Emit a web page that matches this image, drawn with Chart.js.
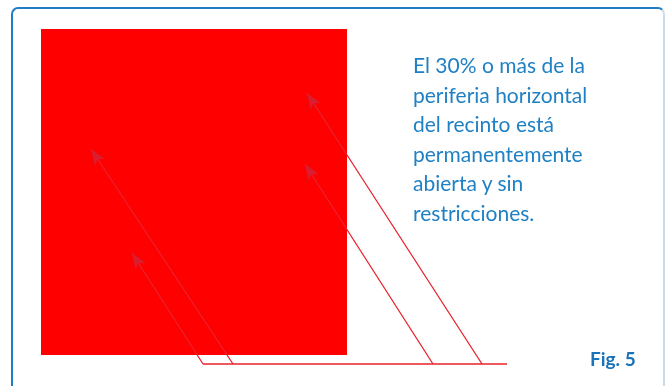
<!DOCTYPE html>
<html>
<head>
<meta charset="utf-8">
<script src="https://cdn.jsdelivr.net/npm/chart.js@4/dist/chart.umd.min.js"></script>
<style>
  html, body { margin: 0; padding: 0; background: #ffffff; }
  #wrap { position: relative; width: 666px; height: 386px; overflow: hidden; }
  #frame {
    position: absolute; left: 11px; top: 7px; width: 650px; height: 400px;
    border: 2px solid #1f7dc3; border-right-color: #c9dced; border-radius: 7px;
  }
  canvas { position: absolute; left: 0; top: 0; }
  .note {
    position: absolute; left: 413px; top: 50px; width: 245px;
    font-family: Lato, "Open Sans", sans-serif; font-size: 21px; line-height: 29.5px;
    color: #1f80c4;
  }
  .fig {
    position: absolute; left: 590px; top: 347px;
    font-family: Lato, "Open Sans", sans-serif; font-weight: 700; font-size: 19px;
    color: #1a73b8;
  }
</style>
</head>
<body>
<div id="wrap">
  <div id="frame"></div>
  <canvas id="chart" width="666" height="386"></canvas>
  <div class="note">El 30% o más de la<br>periferia horizontal<br>del recinto está<br>permanentemente<br>abierta y sin<br>restricciones.</div>
  <div class="fig">Fig. 5</div>
</div>
<script>
// drawing space matches the 666 x 386 picture, y counted from the top
const panelX = [41, 347];
const panelTop = 29;
const panelBottom = 355;

const arrowStartX = [203, 233, 433, 482];
const arrowStartY = [364, 364, 364, 364];
const arrowTipX = [132, 91, 305, 307];
const arrowTipY = [253, 149, 164, 93];

const baseLineX = [203, 507];
const baseLineY = 364;

const LINE_RED = "#e8212d";
const HEAD_RED = "#d81e30";

const datasets = [
  {
    label: "panel-top",
    order: 10,
    data: panelX.map((x) => ({ x, y: panelTop })),
    showLine: true, borderWidth: 0, pointRadius: 0,
    backgroundColor: "#ff0000", fill: "+1",
  },
  {
    label: "panel-bottom",
    order: 10,
    data: panelX.map((x) => ({ x, y: panelBottom })),
    showLine: true, borderWidth: 0, pointRadius: 0,
  },
  {
    label: "base",
    order: 1,
    data: baseLineX.map((x) => ({ x, y: baseLineY })),
    showLine: true, borderColor: LINE_RED, borderWidth: 1.5, pointRadius: 0,
  },
];

arrowStartX.forEach((sx, i) => {
  datasets.push({
    label: "arrow-" + (i + 1),
    order: 1,
    arrow: true,
    data: [{ x: sx, y: arrowStartY[i] }, { x: arrowTipX[i], y: arrowTipY[i] }],
    showLine: true, borderColor: LINE_RED, borderWidth: 1.3, pointRadius: 0,
  });
});

const arrowHeads = {
  id: "arrowHeads",
  afterDatasetsDraw(chart) {
    const { ctx } = chart;
    chart.data.datasets.forEach((ds, i) => {
      if (!ds.arrow) return;
      const pts = chart.getDatasetMeta(i).data;
      const a = pts[0], b = pts[pts.length - 1];
      const ang = Math.atan2(b.y - a.y, b.x - a.x);
      ctx.save();
      ctx.translate(b.x, b.y);
      ctx.rotate(ang);
      ctx.fillStyle = HEAD_RED;
      ctx.beginPath();
      ctx.moveTo(0, 0);
      ctx.lineTo(-16, -6);
      ctx.lineTo(-12, 0);
      ctx.lineTo(-16, 6);
      ctx.closePath();
      ctx.fill();
      ctx.restore();
    });
  },
};

new Chart(document.getElementById("chart"), {
  type: "scatter",
  data: { datasets },
  options: {
    responsive: false,
    animation: false,
    layout: { padding: 0 },
    scales: {
      x: { type: "linear", min: 0, max: 666, display: false },
      y: { type: "linear", min: 0, max: 386, reverse: true, display: false },
    },
    plugins: {
      legend: { display: false },
      tooltip: { enabled: false },
      filler: { drawTime: "beforeDatasetsDraw" },
    },
  },
  plugins: [arrowHeads],
});
</script>
</body>
</html>
